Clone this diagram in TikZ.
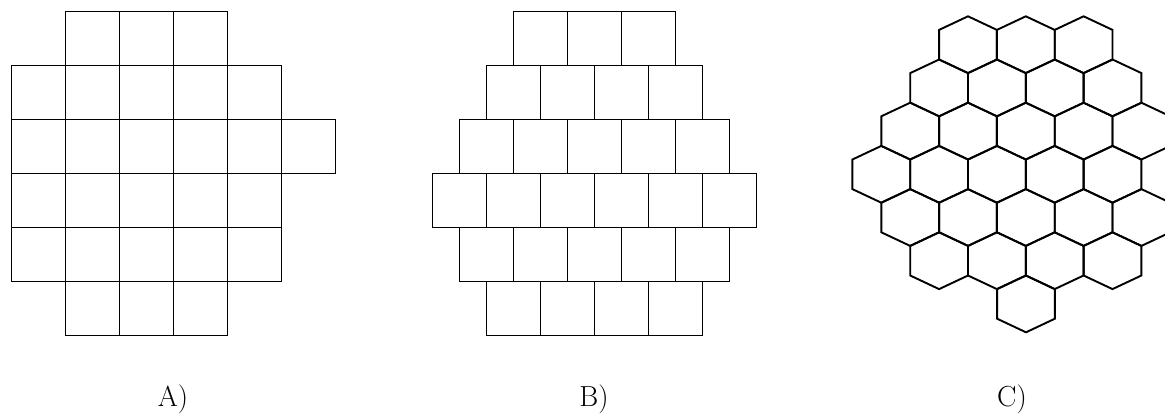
\documentclass[tikz,border=0pt]{standalone}
\usetikzlibrary{positioning}
\tikzset{
  cell/.style={draw=black, line width=1.9pt, line join=miter},
  caption/.style={font=\fontsize{29}{34}\selectfont, anchor=base, inner sep=0pt},
}
% one pointy-top hexagon around a centre
\newcommand{\hexcell}[2]{%
  \draw[cell] ({#1},{#2}) +(0,-28.4) -- +(28.9,-14.8) -- +(28.9,14.8) -- +(0,28.4)
    -- +(-28.9,14.8) -- +(-28.9,-14.8) -- cycle;}

\begin{document}
\begin{tikzpicture}[x=1pt, y=-1pt]
    \useasboundingbox (0,0) rectangle (1165,413);

    % A) square grid
    \foreach \r/\c/\n in {0/1/3, 1/0/5, 2/0/6, 3/0/5, 4/0/5, 5/1/3}
      \foreach \i in {1,...,\n}
        \draw[cell] ({11.5+54*(\c+\i-1)},{11.5+54*\r}) rectangle +(54,54);

    % B) shifted rows
    \foreach \r/\x/\n in {0/513.5/3, 1/486.5/4, 2/459.5/5, 3/432.5/6, 4/459.5/5, 5/486.5/4}
      \foreach \i in {1,...,\n}
        \draw[cell] ({\x+54*(\i-1)},{11.5+54*\r}) rectangle +(54,54);

    % C) hexagons
    \foreach \r/\x/\n in {0/968/3, 1/939.1/4, 2/910.2/5, 3/881.3/5, 4/910.2/5, 5/939.1/4, 6/1026/1}
      \foreach \i in {1,...,\n}
        \hexcell{\x+57.8*(\i-1)}{44.7+43.2*\r};

    \node[caption] (labA) at (173,406) {A)};
    \node[caption] (labB) at (594,406) {B)};
    \node[caption] (labC) at (1012,406) {C)};
\end{tikzpicture}
\end{document}
